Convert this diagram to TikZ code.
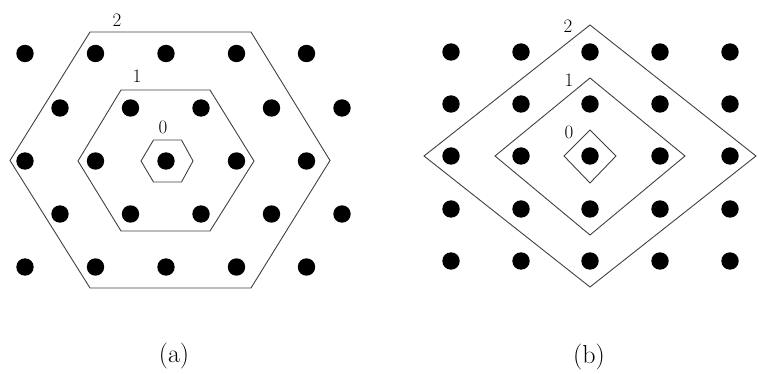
\documentclass[tikz,border=0pt]{standalone}
\begin{document}
\begin{tikzpicture}[x=1pt,y=-1pt,
  dot/.style={fill=black},
  shell/.style={draw=black!75,line width=0.9pt,line join=miter},
  lbl/.style={font=\fontsize{19}{19}\selectfont,inner sep=0pt},
  captext/.style={font=\fontsize{26}{26}\selectfont,inner sep=0pt}]
\useasboundingbox (0,0) rectangle (758,374);
% ---- (a) hexagonal lattice
\foreach \y in {53.5,161,267}{
  \foreach \x in {25,95.5,166,236.5,306.5}{\fill[dot] (\x,\y) circle (8.7);}}
\foreach \y in {108,214}{
  \foreach \x in {60,130.5,201,271.5,342}{\fill[dot] (\x,\y) circle (8.7);}}
\draw[shell] (90,32) -- (251,32) -- (330,160.5) -- (251,288) -- (90,288) -- (10,160.5) -- cycle;
\draw[shell] (121,90) -- (210,90) -- (254,161) -- (210,231) -- (121,231) -- (78,161) -- cycle;
\draw[shell] (153.5,140) -- (181.5,140) -- (193,161) -- (181.5,182) -- (153.5,182) -- (141,161) -- cycle;
\node[lbl] (a2) at (117,20) {2};
\node[lbl] (a1) at (137,76) {1};
\node[lbl] (a0) at (163,127) {0};
\node[captext] (capa) at (174,356) {(a)};
% ---- (b) square lattice
\foreach \y in {52,104,156,209,261}{
  \foreach \x in {451,521,590,660,730}{\fill[dot] (\x,\y) circle (8.7);}}
\draw[shell] (590,25) -- (756,156) -- (590,287) -- (424,156) -- cycle;
\draw[shell] (590,78) -- (685,156) -- (590,235) -- (495,156) -- cycle;
\draw[shell] (590,130) -- (616,156) -- (590,183) -- (564,156) -- cycle;
\node[lbl] (b2) at (568,26) {2};
\node[lbl] (b1) at (569,80) {1};
\node[lbl] (b0) at (569,132) {0};
\node[captext] (capb) at (589,357) {(b)};
\end{tikzpicture}
\end{document}
